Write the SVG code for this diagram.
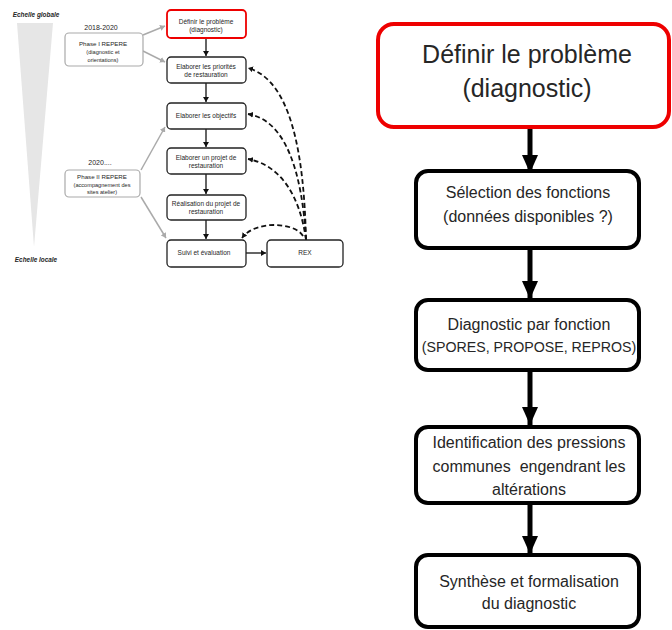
<svg xmlns="http://www.w3.org/2000/svg" width="672" height="630" viewBox="0 0 672 630">
<defs>
<style>
.t{font-family:"Liberation Sans",Arial,sans-serif;fill:#262626;text-anchor:middle}
.r{font-size:16px}
.s{font-size:6.5px}
.bx{fill:#fff;stroke:#000;stroke-width:4}
.sbx{fill:#fff;stroke:#222;stroke-width:1.3}
.gbx{fill:#fff;stroke:#aaa;stroke-width:1.2}
.big{stroke:#000;stroke-width:5;fill:none}
.sm{stroke:#111;stroke-width:1.3;fill:none}
.gl{stroke:#aaa;stroke-width:1.5;fill:none}
.dsh{stroke:#111;stroke-width:1.8;fill:none;stroke-dasharray:5 3}
</style>
<marker id="mb" markerUnits="userSpaceOnUse" markerWidth="20" markerHeight="16" refX="18" refY="8" orient="auto"><path d="M0,0 L18,8 L0,16 Z" fill="#000"/></marker>
<marker id="ms" markerUnits="userSpaceOnUse" markerWidth="6" markerHeight="6" refX="5" refY="3" orient="auto"><path d="M0,0 L5,3 L0,6 Z" fill="#111"/></marker>
<marker id="mg" markerUnits="userSpaceOnUse" markerWidth="6" markerHeight="6" refX="5" refY="3" orient="auto"><path d="M0,0 L5,3 L0,6 Z" fill="#aaa"/></marker>
</defs>
<rect width="672" height="630" fill="#fff"/>

<g id="scale">
<text x="36" y="17" class="t" style="font-size:6.4px;font-weight:bold;font-style:italic">Echelle globale</text>
<polygon points="17,23 53,23 34,247" fill="#e6e6e6"/>
<text x="36" y="262" class="t" style="font-size:6.4px;font-weight:bold;font-style:italic">Echelle locale</text>
</g>

<g id="connectors-left">
<line class="gl" x1="143" y1="35" x2="165" y2="26" marker-end="url(#mg)"/>
<line class="gl" x1="143" y1="51" x2="165" y2="62" marker-end="url(#mg)"/>
<line class="gl" x1="141" y1="170" x2="165" y2="127" marker-end="url(#mg)"/>
<line class="gl" x1="141" y1="197" x2="166" y2="238" marker-end="url(#mg)"/>
<line class="sm" x1="206" y1="38" x2="206" y2="56" marker-end="url(#ms)"/>
<line class="sm" x1="206" y1="83" x2="206" y2="102" marker-end="url(#ms)"/>
<line class="sm" x1="206" y1="129" x2="206" y2="147" marker-end="url(#ms)"/>
<line class="sm" x1="206" y1="174" x2="206" y2="194" marker-end="url(#ms)"/>
<line class="sm" x1="206" y1="220" x2="206" y2="239" marker-end="url(#ms)"/>
<line class="sm" x1="246" y1="253" x2="266" y2="253" marker-end="url(#ms)"/>
<path class="dsh" d="M306,240 C304,150 290,80 248,68" marker-end="url(#ms)"/>
<path class="dsh" d="M306,240 C302,170 285,120 248,114" marker-end="url(#ms)"/>
<path class="dsh" d="M306,240 C300,195 280,165 248,159" marker-end="url(#ms)"/>
<path class="dsh" d="M303,236 C295,222 255,220 242,238" marker-end="url(#ms)"/>
</g>

<g id="phase1">
<text x="101" y="30" class="t" style="font-size:7px">2018-2020</text>
<rect class="gbx" x="65" y="33" width="78" height="33" rx="4"/>
<text x="103" y="46" class="t" style="font-size:6.2px">Phase I REPERE</text>
<text x="103" y="54" class="t" style="font-size:5.6px">(diagnostic et</text>
<text x="103" y="62" class="t" style="font-size:5.6px">orientations)</text>
</g>
<g id="phase2">
<text x="100" y="165" class="t" style="font-size:7px">2020....</text>
<rect class="gbx" x="65" y="170" width="75" height="27" rx="4"/>
<text x="102" y="179" class="t" style="font-size:6.2px">Phase II REPERE</text>
<text x="102" y="187" class="t" style="font-size:5.6px">(accompagnement des</text>
<text x="102" y="194" class="t" style="font-size:5.6px">sites atelier)</text>
</g>

<g id="s-definir">
<rect x="167" y="10" width="79" height="28" rx="4" fill="#fff" stroke="#e00" stroke-width="1.8"/>
<text x="206" y="24" class="t s">Définir le problème</text>
<text x="206" y="32" class="t s">(diagnostic)</text>
</g>
<g id="s-priorites">
<rect class="sbx" x="167" y="57" width="79" height="26" rx="4"/>
<text x="206" y="69" class="t s">Elaborer les priorités</text>
<text x="206" y="77" class="t s">de restauration</text>
</g>
<g id="s-objectifs">
<rect class="sbx" x="167" y="103" width="79" height="26" rx="4"/>
<text x="206" y="118" class="t s">Elaborer les objectifs</text>
</g>
<g id="s-projet">
<rect class="sbx" x="167" y="148" width="79" height="26" rx="4"/>
<text x="206" y="160" class="t s">Elaborer un projet de</text>
<text x="206" y="168" class="t s">restauration</text>
</g>
<g id="s-realisation">
<rect class="sbx" x="167" y="195" width="79" height="25" rx="4"/>
<text x="206" y="206" class="t s">Réalisation du projet de</text>
<text x="206" y="214" class="t s">restauration</text>
</g>
<g id="s-suivi">
<rect class="sbx" x="167" y="240" width="79" height="27" rx="4"/>
<text x="204" y="255" class="t s">Suivi et évaluation</text>
</g>
<g id="s-rex">
<rect class="sbx" x="267" y="240" width="76" height="27" rx="4"/>
<text x="305" y="255" class="t s">REX</text>
</g>

<g id="connectors">
<line class="big" x1="530" y1="127" x2="530" y2="173" marker-end="url(#mb)"/>
<line class="big" x1="530" y1="248" x2="530" y2="299" marker-end="url(#mb)"/>
<line class="big" x1="530" y1="370" x2="530" y2="425" marker-end="url(#mb)"/>
<line class="big" x1="530" y1="503" x2="530" y2="554" marker-end="url(#mb)"/>
</g>

<g id="definir">
<rect x="378" y="24" width="291" height="103" rx="16" fill="#fff" stroke="#e00" stroke-width="4"/>
<text x="527" y="63" class="t" style="font-size:25px">Définir le problème</text>
<text x="527" y="97" class="t" style="font-size:25px">(diagnostic)</text>
</g>
<g id="selection">
<rect class="bx" x="416" y="171" width="223" height="77" rx="12"/>
<text x="528" y="198" class="t r">Sélection des fonctions</text>
<text x="528" y="222" class="t r">(données disponibles ?)</text>
</g>
<g id="diagnostic">
<rect class="bx" x="416" y="300" width="223" height="70" rx="12"/>
<text x="529" y="330" class="t r">Diagnostic par fonction</text>
<text x="529" y="352" class="t" style="font-size:14.2px">(SPORES, PROPOSE, REPROS)</text>
</g>
<g id="identification">
<rect class="bx" x="416" y="427" width="223" height="76" rx="12"/>
<text x="529" y="448" class="t r">Identification des pressions</text>
<text x="529" y="472" class="t r" xml:space="preserve">communes  engendrant les</text>
<text x="529" y="495" class="t r">altérations</text>
</g>
<g id="synthese">
<rect class="bx" x="416" y="555" width="223" height="72" rx="12"/>
<text x="529" y="587" class="t r">Synthèse et formalisation</text>
<text x="529" y="609" class="t r">du diagnostic</text>
</g>
</svg>
